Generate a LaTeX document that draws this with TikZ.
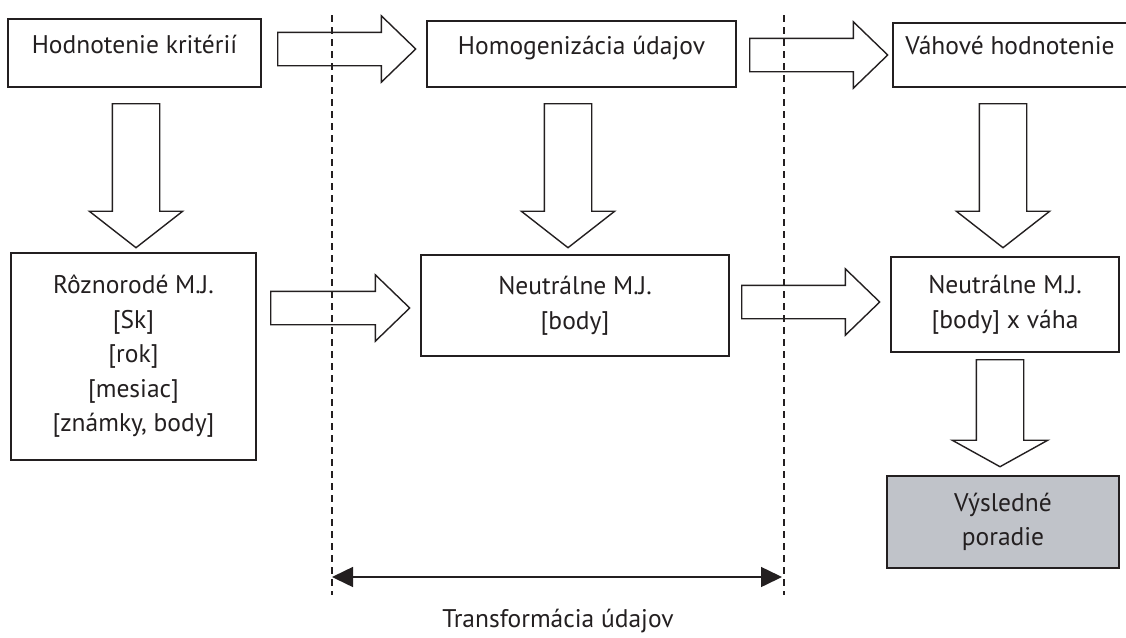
\documentclass[tikz,border=0pt]{standalone}
\usepackage{fontspec}
\setmainfont{PT Sans}
\usetikzlibrary{shapes.arrows}
\usetikzlibrary{arrows.meta}
\usetikzlibrary{positioning}
\definecolor{resultgray}{RGB}{192,195,201}
\definecolor{ink}{RGB}{35,31,32}
\tikzset{
  box/.style={draw=ink,line width=1.6pt,align=center,inner sep=0pt,text=ink,
    font=\fontsize{25.5}{34.5}\selectfont},
  raised/.style={text height=18pt,text depth=#1},
  fatright/.style={single arrow,draw=ink,line width=1.4pt,inner sep=16pt,
    minimum height=#1,minimum width=65pt,single arrow head extend=16.5pt,
    single arrow tip angle=88,anchor=tail},
  fatdown/.style={single arrow,draw=ink,line width=1.4pt,inner sep=23pt,
    minimum height=#1,minimum width=92pt,single arrow head extend=23pt,
    single arrow tip angle=104,shape border rotate=270,anchor=tail},
  divider/.style={draw=ink,line width=1.2pt,dash pattern=on 7pt off 5pt},
  span/.style={{Triangle[length=21pt,width=20pt]}-{Triangle[length=21pt,width=20pt]},
    draw=ink,line width=1.5pt}
}
\begin{document}
\begin{tikzpicture}[x=1pt,y=-1pt]
  \useasboundingbox (0,0) rectangle (1126,637);
  % upper row
  \node[box,raised=17pt,minimum width=253pt,minimum height=68pt] (crit) at (134.5,53) {Hodnotenie kritérií};
  \node[box,raised=18pt,minimum width=309pt,minimum height=66pt] (homog) at (581.5,54) {Homogenizácia údajov};
  \node[box,raised=20pt,minimum width=234pt,minimum height=64pt] (weigh) at (1010,55) {Váhové hodnotenie};
  % middle row
  \node[box,minimum width=245pt,minimum height=207pt] (mixed) at (133.5,356.5) {Rôznorodé M.J.\\ {[Sk]}\\ {[rok]}\\ {[mesiac]}\\ {[známky, body]}};
  \node[box,minimum width=308pt,minimum height=101pt] (neutral) at (575,305.5) {Neutrálne M.J.\\ {[body]}};
  \node[box,minimum width=228pt,minimum height=95pt] (weighted) at (1005,304.5) {Neutrálne M.J.\\ {[body] x váha}};
  % result
  \node[box,fill=resultgray,minimum width=232pt,minimum height=92pt] (result) at (1003,522) {Výsledné\\ poradie};
  % block arrows
  \node[fatright=138pt] (a1) at (277,49) {};
  \node[fatright=138pt] (a2) at (749,55) {};
  \node[fatright=139pt] (a3) at (270,308) {};
  \node[fatright=138pt] (a4) at (741,302) {};
  \node[fatdown=144pt] (d1) at (136,103) {};
  \node[fatdown=144pt] (d2) at (568,103) {};
  \node[fatdown=144pt] (d3) at (1003,103) {};
  \node[fatdown=107pt,minimum width=94pt,single arrow head extend=24pt,
    single arrow tip angle=122] (d4) at (1000,359) {};
  % dashed borders of the transformation
  \coordinate (lt) at (332,15);
  \coordinate (lb) at (332,595);
  \coordinate (rt) at (784,15);
  \coordinate (rb) at (784,595);
  \draw[divider] (lt) -- (lb);
  \draw[divider] (rt) -- (rb);
  \coordinate (sl) at (332,577);
  \coordinate (sr) at (782,577);
  \draw[span] (sl) -- (sr);
  \node[text=ink,font=\fontsize{25.5}{34.5}\selectfont] (transf) at (558,621) {Transformácia údajov};
\end{tikzpicture}
\end{document}
